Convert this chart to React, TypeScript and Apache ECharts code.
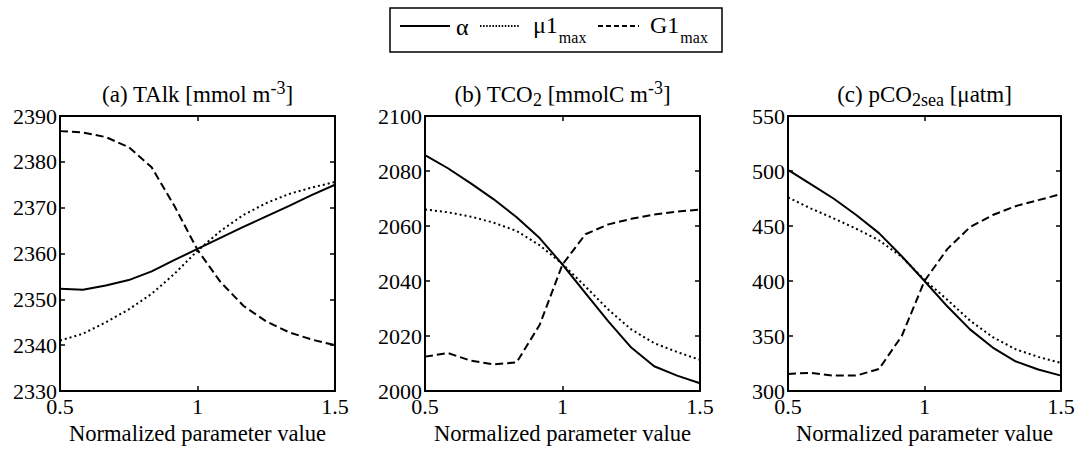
import React, { useEffect, useRef } from "react";
import * as echarts from "echarts";

const xValues = [0.5, 0.5833, 0.6667, 0.75, 0.8333, 0.9167, 1, 1.0833, 1.1667, 1.25, 1.3333, 1.4167, 1.5];

const talkAlpha = [2352.3, 2352.1, 2353.0, 2354.2, 2356.1, 2358.6, 2361.0, 2363.4, 2365.8, 2368.1, 2370.4, 2372.8, 2375.0];
const talkMu = [2341.0, 2342.5, 2345.0, 2347.8, 2351.2, 2355.6, 2360.6, 2364.9, 2368.4, 2371.0, 2373.0, 2374.4, 2375.6];
const talkG = [2386.7, 2386.4, 2385.4, 2383.2, 2378.8, 2370.3, 2360.8, 2353.8, 2348.6, 2345.2, 2342.8, 2341.2, 2340.0];

const tco2Alpha = [2085.8, 2081.0, 2075.5, 2069.7, 2063.2, 2055.6, 2046.0, 2035.6, 2025.3, 2015.8, 2009.0, 2005.6, 2002.8];
const tco2Mu = [2066.0, 2065.0, 2063.4, 2061.2, 2058.2, 2053.0, 2046.2, 2038.0, 2029.6, 2022.4, 2017.4, 2014.2, 2011.3];
const tco2G = [2012.5, 2013.8, 2011.0, 2009.7, 2010.4, 2024.0, 2046.0, 2057.0, 2060.6, 2062.6, 2064.2, 2065.2, 2066.0];

const pco2Alpha = [501, 488, 475, 460, 443.5, 422.5, 400, 377, 356, 339.5, 327, 319.5, 314];
const pco2Mu = [476, 466, 457, 447.5, 437, 422, 401, 383, 364, 349, 338, 331, 325.5];
const pco2G = [315.5, 316.5, 314, 314, 320, 350, 400, 429, 449, 460, 468, 473.5, 479];

const seriesNames = ["α", "μ1max", "G1max"];
const legendMain = ["α", "μ1", "G1"];
const legendSub = ["", "max", "max"];

const panelTitles = [
  "(a) TAlk [mmol m{sup|-3}]",
  "(b) TCO{sub|2} [mmolC m{sup|-3}]",
  "(c) pCO{sub|2sea} [μatm]",
];
const xAxisName = "Normalized parameter value";
const yRanges = [
  { min: 2330, max: 2390, interval: 10 },
  { min: 2000, max: 2100, interval: 20 },
  { min: 300, max: 550, interval: 50 },
];
const xRange = { min: 0.5, max: 1.5, interval: 0.5 };

const panelData = [
  [talkAlpha, talkMu, talkG],
  [tco2Alpha, tco2Mu, tco2G],
  [pco2Alpha, pco2Mu, pco2G],
];

const FONT = "Liberation Serif";
const grids = [
  { left: 60, top: 116, width: 275, height: 276 },
  { left: 425, top: 116, width: 275, height: 276 },
  { left: 788, top: 116, width: 273, height: 276 },
];
const lineStyles: any[] = [
  { type: "solid", width: 2 },
  { type: [2, 3], width: 2 },
  { type: [8, 4], width: 2 },
];
const legendDash: any[] = [null, [1.5, 1.6], [5, 3]];
const legendBox = { x: 390, y: 8, width: 332, height: 44 };
const legendLines = [
  [400, 450],
  [480, 519],
  [598, 639],
];
const legendTextX = [456, 533, 650];
const legendTextY = [27, 25, 25];
const legendSubY = 37;
const legendLineY = 26;
const LEG_FS = 24;
const LEG_SUB_FS = 16;

export default function App() {
  const ref = useRef<HTMLDivElement>(null);
  useEffect(() => {
    document.body.style.margin = "0";
    const chart = echarts.init(ref.current!, null, { renderer: "svg" });
    const axisLine = { show: true, onZero: false, lineStyle: { color: "#000", width: 2 } };
    const axisTick = { show: true, inside: true, length: 5, lineStyle: { color: "#000", width: 1.5 } };
    const labelStyle = { color: "#000", fontFamily: FONT, fontSize: 22 };
    const fmt = (v: number) => String(v);
    const xAxes: any[] = [];
    const yAxes: any[] = [];
    const series: any[] = [];
    grids.forEach((g, i) => {
      xAxes.push({
        type: "value", gridIndex: i, position: "bottom", ...xRange,
        axisLine, axisTick, splitLine: { show: false },
        axisLabel: { ...labelStyle, margin: 4, formatter: fmt },
        name: xAxisName, nameLocation: "middle", nameGap: 31,
        nameTextStyle: { ...labelStyle, fontSize: 22.6 },
      });
      xAxes.push({
        type: "value", gridIndex: i, position: "top", ...xRange,
        axisLine, axisTick, splitLine: { show: false }, axisLabel: { show: false },
      });
      yAxes.push({
        type: "value", gridIndex: i, position: "left", ...yRanges[i],
        axisLine, axisTick, splitLine: { show: false },
        axisLabel: { ...labelStyle, margin: 3, formatter: fmt },
      });
      yAxes.push({
        type: "value", gridIndex: i, position: "right", ...yRanges[i],
        axisLine, axisTick, splitLine: { show: false }, axisLabel: { show: false },
      });
      panelData[i].forEach((vals, k) => {
        series.push({
          type: "line", name: seriesNames[k],
          xAxisIndex: 2 * i, yAxisIndex: 2 * i,
          data: vals.map((v, j) => [xValues[j], v]),
          symbol: "none", showSymbol: false, smooth: false,
          lineStyle: { color: "#000", ...lineStyles[k] },
          itemStyle: { color: "#000" },
        });
      });
    });
    const titles = grids.map((g, i) => ({
      text: panelTitles[i],
      left: g.left + g.width / 2,
      top: 79,
      padding: 0,
      textAlign: "center",
      textStyle: {
        color: "#000", fontFamily: FONT, fontSize: 23, fontWeight: "normal", lineHeight: 30,
        rich: {
          sup: { fontFamily: FONT, fontSize: 18, lineHeight: 9, verticalAlign: "top", color: "#000" },
          sub: { fontFamily: FONT, fontSize: 18, lineHeight: 11, verticalAlign: "bottom", color: "#000" },
        },
      },
    }));

    const canvas = document.createElement("canvas");
    const ctx = canvas.getContext("2d")!;
    ctx.font = `${LEG_FS}px "${FONT}"`;

    const graphic: any[] = [
      {
        type: "rect",
        shape: { ...legendBox },
        style: { fill: "#fff", stroke: "#000", lineWidth: 1.5 },
        z: 10,
      },
    ];
    legendLines.forEach((ln, k) => {
      graphic.push({
        type: "line",
        shape: { x1: ln[0], y1: legendLineY, x2: ln[1], y2: legendLineY },
        style: { stroke: "#000", lineWidth: 2, lineDash: legendDash[k] },
        z: 11,
      });
      graphic.push({
        type: "text",
        x: legendTextX[k],
        y: legendTextY[k],
        style: {
          text: legendMain[k],
          verticalAlign: "middle",
          align: "left",
          fill: "#000",
          font: `${LEG_FS}px "${FONT}"`,
        },
        z: 11,
      });
      if (legendSub[k]) {
        const w = ctx.measureText(legendMain[k]).width;
        graphic.push({
          type: "text",
          x: legendTextX[k] + w + 1,
          y: legendSubY,
          style: {
            text: legendSub[k],
            verticalAlign: "middle",
            align: "left",
            fill: "#000",
            font: `${LEG_SUB_FS}px "${FONT}"`,
          },
          z: 11,
        });
      }
    });
    chart.setOption({
      animation: false,
      backgroundColor: "#fff",
      title: titles,
      grid: grids.map((g) => ({ ...g, containLabel: false })),
      xAxis: xAxes,
      yAxis: yAxes,
      series,
      graphic,
    });
    return () => chart.dispose();
  }, []);
  return <div ref={ref} style={{ width: 1082, height: 450 }} />;
}
